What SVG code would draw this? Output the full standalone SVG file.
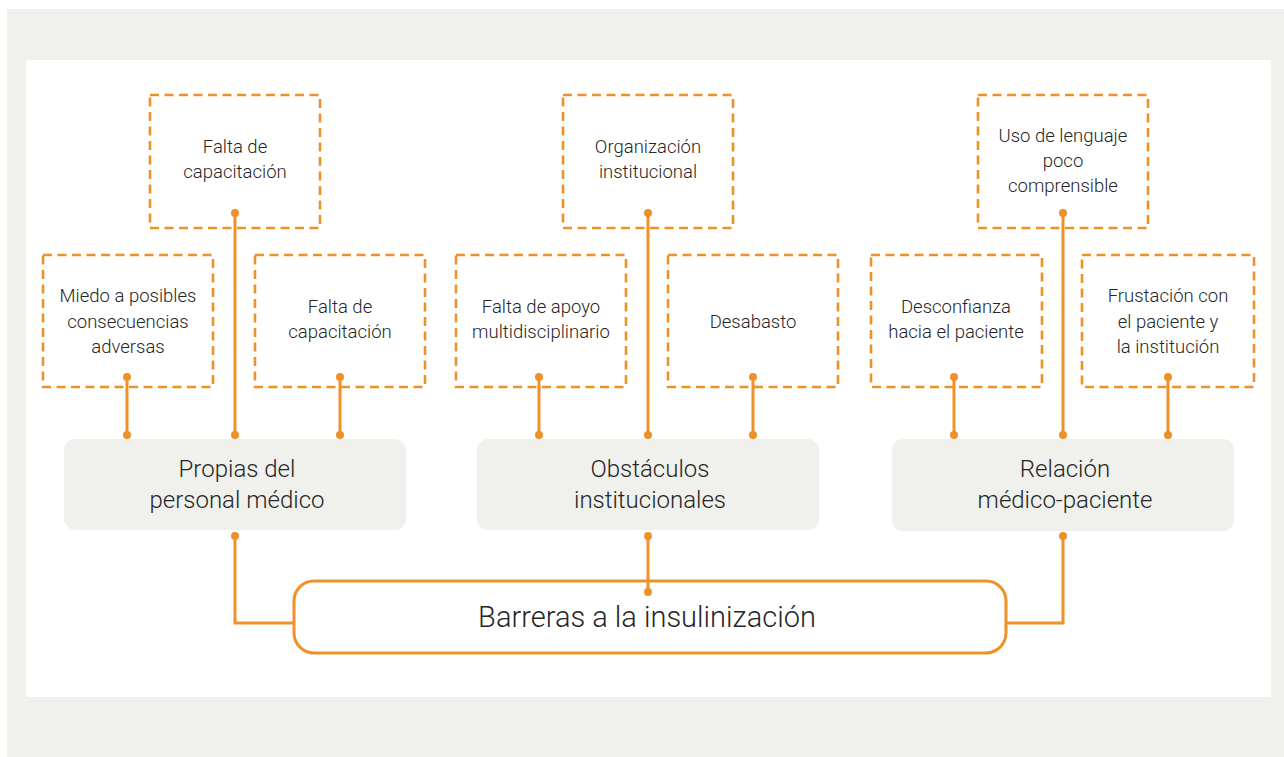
<svg xmlns="http://www.w3.org/2000/svg" width="1284" height="757" viewBox="0 0 1284 757">
<style>
.dash{fill:none;stroke:#EE9129;stroke-width:2.6;stroke-dasharray:9 5.5}
.cat{fill:#F0F0EC}
.ln{fill:none;stroke:#EE9129;stroke-width:3}
.dot{fill:#EE9129}
.t{font-family:Roboto,"Liberation Sans",sans-serif;font-weight:300;fill:#262626;text-anchor:middle}
.s{font-size:18.5px}
.m{font-size:24px}
.b{font-size:29px}
</style>
<rect x="0" y="0" width="1284" height="757" fill="#ffffff"/>
<rect x="7" y="9" width="1277" height="748" fill="#F0F0EC"/>
<rect x="26" y="60" width="1245" height="637" fill="#ffffff"/>

<g id="n-falta1">
<rect class="dash" x="150" y="95" width="170" height="133"/>
<text class="t s" x="235" y="153">Falta de</text>
<text class="t s" x="235" y="178">capacitación</text>
</g>
<g id="n-miedo">
<rect class="dash" x="43" y="255" width="170" height="132"/>
<text class="t s" x="128" y="302">Miedo a posibles</text>
<text class="t s" x="128" y="327.5">consecuencias</text>
<text class="t s" x="128" y="353">adversas</text>
</g>
<g id="n-falta2">
<rect class="dash" x="255" y="255" width="170" height="132"/>
<text class="t s" x="340" y="313">Falta de</text>
<text class="t s" x="340" y="338">capacitación</text>
</g>
<g id="n-propias">
<rect class="cat" x="64" y="439" width="342" height="91" rx="11"/>
<text class="t m" x="237" y="477">Propias del</text>
<text class="t m" x="237" y="508">personal médico</text>
</g>

<g id="n-organizacion">
<rect class="dash" x="563" y="95" width="170" height="133"/>
<text class="t s" x="648" y="153">Organización</text>
<text class="t s" x="648" y="178">institucional</text>
</g>
<g id="n-apoyo">
<rect class="dash" x="456" y="255" width="170" height="132"/>
<text class="t s" x="541" y="313">Falta de apoyo</text>
<text class="t s" x="541" y="338">multidisciplinario</text>
</g>
<g id="n-desabasto">
<rect class="dash" x="668" y="255" width="170" height="132"/>
<text class="t s" x="753" y="328">Desabasto</text>
</g>
<g id="n-obstaculos">
<rect class="cat" x="477" y="439" width="342" height="91" rx="11"/>
<text class="t m" x="650" y="477">Obstáculos</text>
<text class="t m" x="650" y="508">institucionales</text>
</g>

<g id="n-lenguaje">
<rect class="dash" x="978" y="95" width="170" height="133"/>
<text class="t s" x="1063" y="142">Uso de lenguaje</text>
<text class="t s" x="1063" y="167">poco</text>
<text class="t s" x="1063" y="192">comprensible</text>
</g>
<g id="n-desconfianza">
<rect class="dash" x="871" y="255" width="171" height="132"/>
<text class="t s" x="956" y="313">Desconfianza</text>
<text class="t s" x="956" y="338">hacia el paciente</text>
</g>
<g id="n-frustacion">
<rect class="dash" x="1082" y="255" width="172" height="132"/>
<text class="t s" x="1168" y="302">Frustación con</text>
<text class="t s" x="1168" y="327.5">el paciente y</text>
<text class="t s" x="1168" y="353">la institución</text>
</g>
<g id="n-relacion">
<rect class="cat" x="892" y="439" width="342" height="92" rx="11"/>
<text class="t m" x="1065" y="477">Relación</text>
<text class="t m" x="1065" y="508">médico-paciente</text>
</g>

<g id="n-barreras">
<rect x="294" y="581" width="712" height="72" rx="20" fill="#ffffff" stroke="#EE9129" stroke-width="3"/>
<text class="t b" x="647" y="627">Barreras a la insulinización</text>
</g>

<g id="connectors">
<path class="ln" d="M235 213V435M127 377V435M340 377V435"/>
<path class="ln" d="M648 213V435M539 377V435M753 377V435"/>
<path class="ln" d="M1063 213V435M954 377V435M1168 377V435"/>
<path class="ln" d="M235 536V623H293M648 536V592M1063 536V623H1006"/>
<g class="dot">
<circle cx="235" cy="213" r="4"/><circle cx="127" cy="377" r="4"/><circle cx="340" cy="377" r="4"/>
<circle cx="235" cy="435" r="4"/><circle cx="127" cy="435" r="4"/><circle cx="340" cy="435" r="4"/>
<circle cx="648" cy="213" r="4"/><circle cx="539" cy="377" r="4"/><circle cx="753" cy="377" r="4"/>
<circle cx="648" cy="435" r="4"/><circle cx="539" cy="435" r="4"/><circle cx="753" cy="435" r="4"/>
<circle cx="1063" cy="213" r="4"/><circle cx="954" cy="377" r="4"/><circle cx="1168" cy="377" r="4"/>
<circle cx="1063" cy="435" r="4"/><circle cx="954" cy="435" r="4"/><circle cx="1168" cy="435" r="4"/>
<circle cx="235" cy="536" r="4"/><circle cx="648" cy="536" r="4"/><circle cx="1063" cy="536" r="4"/>
<circle cx="648" cy="592" r="4"/>
</g>
</g>
</svg>
